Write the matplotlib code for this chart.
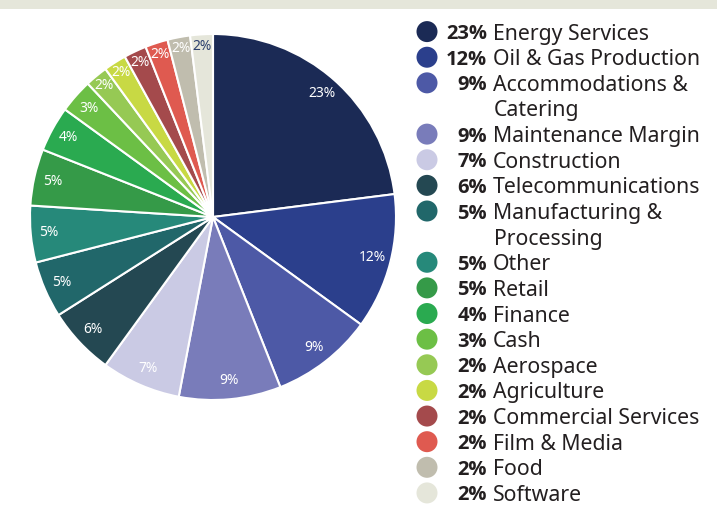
import matplotlib.pyplot as plt
from matplotlib.patches import Circle, Rectangle

categories = ["Energy Services", "Oil & Gas Production", "Accommodations &\nCatering",
              "Maintenance Margin", "Construction", "Telecommunications",
              "Manufacturing &\nProcessing", "Other", "Retail", "Finance", "Cash",
              "Aerospace", "Agriculture", "Commercial Services", "Film & Media",
              "Food", "Software"]
values = [23, 12, 9, 9, 7, 6, 5, 5, 5, 4, 3, 2, 2, 2, 2, 2, 2]
colors = ["#1B2A55", "#2B3F8C", "#4D59A6", "#797CBA", "#CACAE4", "#244852",
          "#21676A", "#26897A", "#359A48", "#2AAA50", "#6CBF45", "#96C954",
          "#C8D944", "#A44A4C", "#DF5A50", "#C0BDAE", "#E5E6DA"]

W, H = 717, 505
plt.rcParams['font.family'] = ['Noto Sans', 'DejaVu Sans']

fig = plt.figure(figsize=(W / 100, H / 100), dpi=100)
ax = fig.add_axes([0, 0, 1, 1])

# top band
ax.add_patch(Rectangle((0, H - 9), W, 9, color="#E5E6DA", lw=0))

# pie
cx, cy = 213, H - 217
wedges, texts, autotexts = ax.pie(
    values, colors=colors, startangle=90, counterclock=False,
    center=(cx, cy), radius=183, frame=True,
    autopct=lambda p: f"{p:.0f}%", pctdistance=0.9,
    wedgeprops=dict(edgecolor="white", linewidth=1.5),
    textprops=dict(color="white", fontsize=10))
autotexts[-1].set_color("#2B3F6E")
for t in autotexts[-6:]:
    x, y = t.get_position()
    t.set_position((cx + (x - cx) * 1.04, cy + (y - cy) * 1.04))
ax.set_xlim(0, W)
ax.set_ylim(0, H)
ax.set_aspect("equal")
ax.axis("off")

# legend
row_y = 31.6
step = 25.63
for lab, val, col in zip(categories, values, colors):
    y = H - row_y
    ax.add_patch(Circle((427, y), 10.5, color=col, lw=0))
    ax.text(487, y, f"{val}%", ha="right", va="center_baseline",
            fontsize=14.5, fontweight="bold", color="#231F20",
            family=["Open Sans", "DejaVu Sans"])
    lines = lab.split("\n")
    ax.text(493, y, lines[0], ha="left", va="center_baseline",
            fontsize=15.3, color="#231F20")
    for extra in lines[1:]:
        row_y += step
        ax.text(494, H - row_y, extra, ha="left", va="center_baseline",
                fontsize=15.3, color="#231F20")
    row_y += step

fig.savefig("out.png", dpi=100)
